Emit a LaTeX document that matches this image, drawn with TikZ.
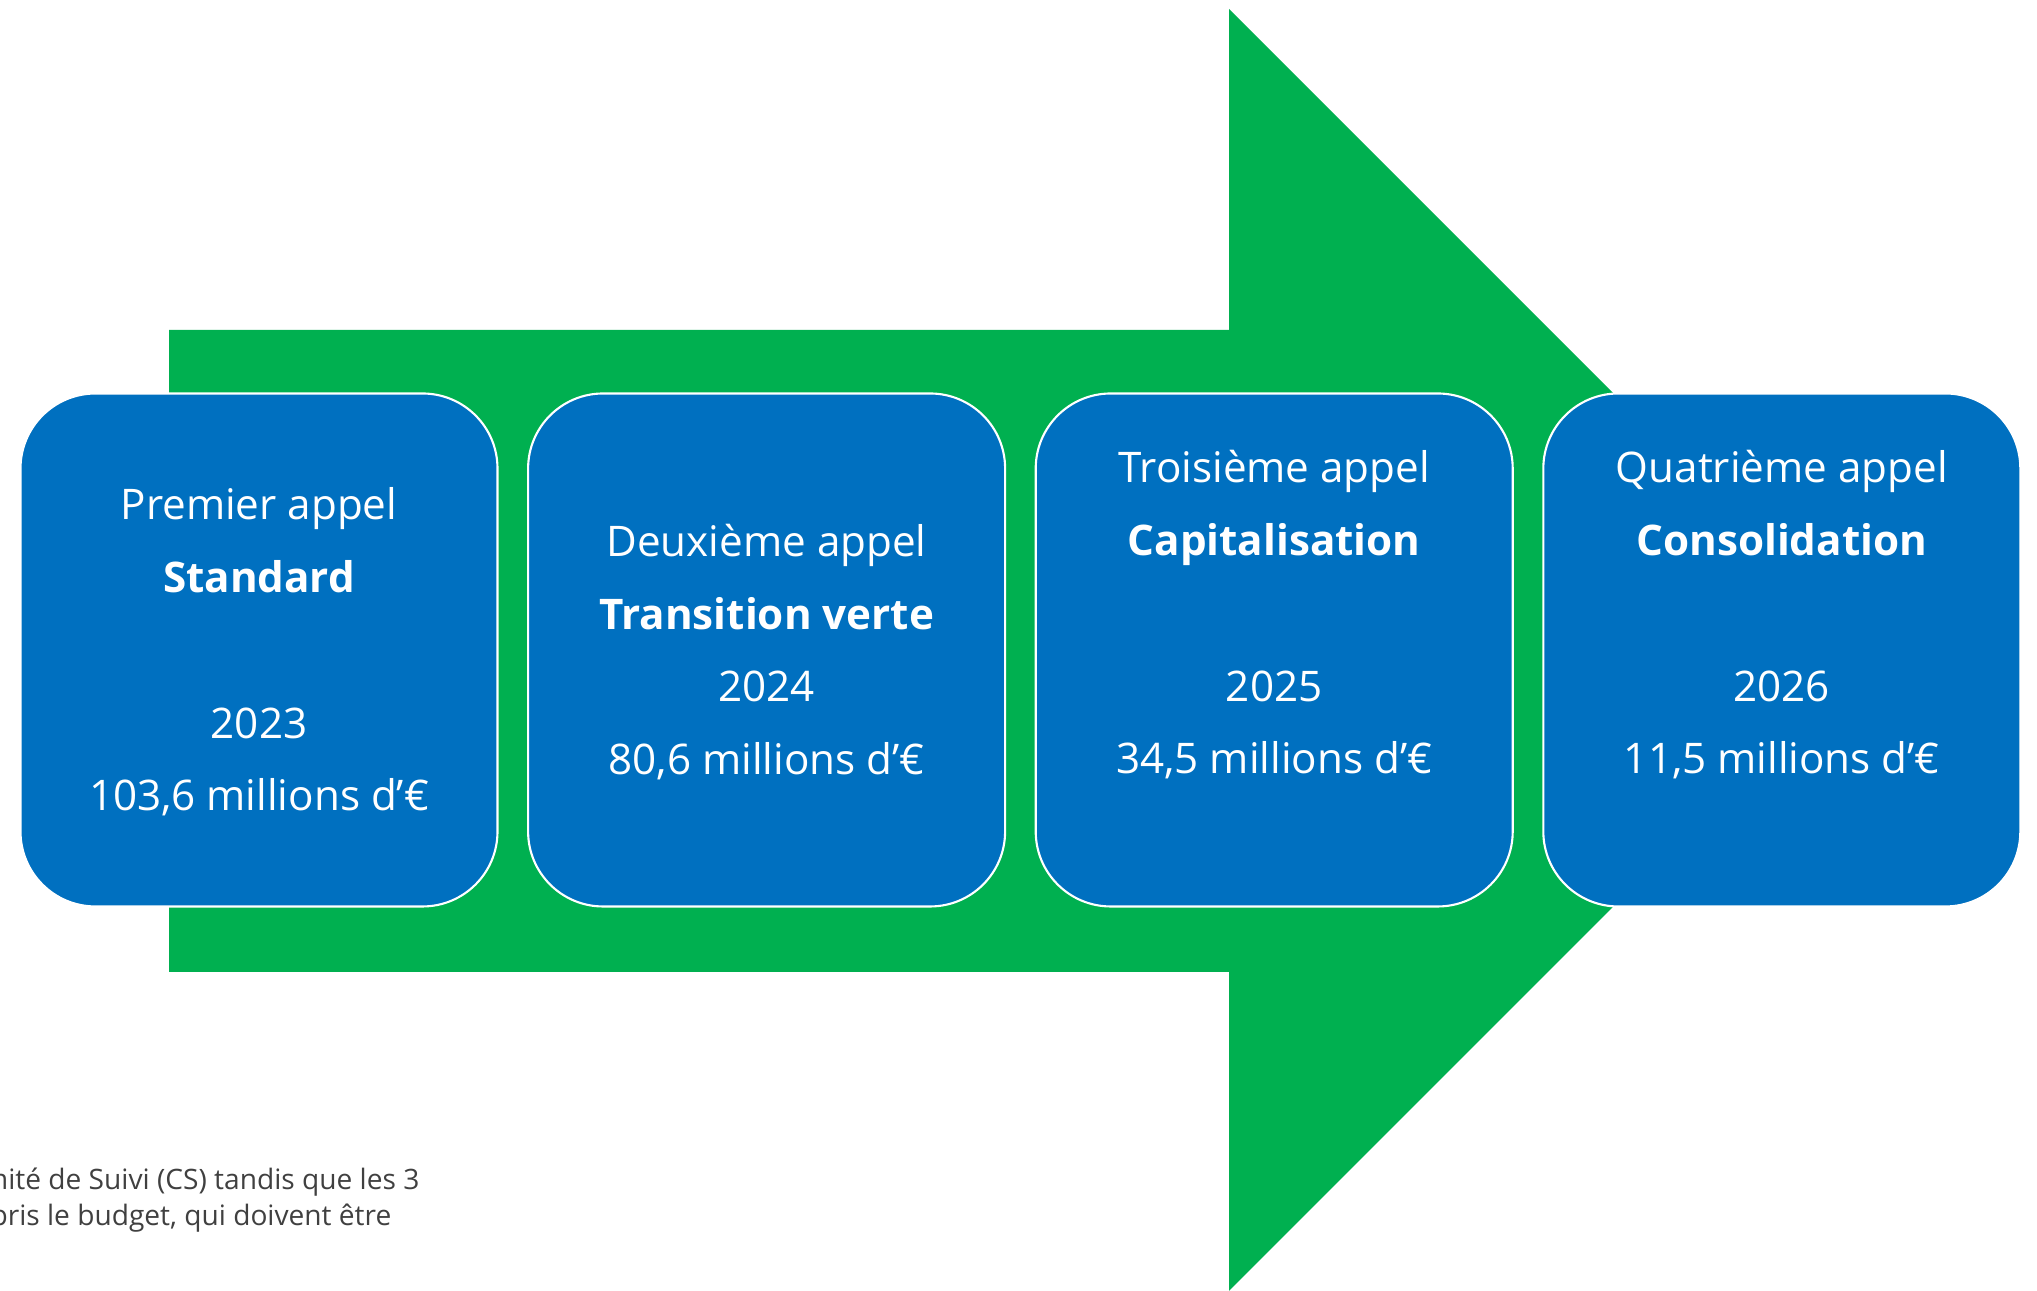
\documentclass[tikz,border=0pt]{standalone}
\usepackage{fontspec}
\setmainfont{Open Sans}
\usepackage{xcolor}
\usetikzlibrary{%
	positioning,%
	calc%
}
\definecolor{vert}{HTML}{00B050}
\definecolor{bleu}{HTML}{0070C0}
\definecolor{gris}{HTML}{404040}

\begin{document}
\begin{tikzpicture}[
	etape/.style={draw=white,line width=0.6pt,fill=bleu,rounded corners=0.75cm,minimum width=4.77cm,minimum height=5.13cm},
	texte/.style={text=white,align=center,font=\fontsize{12}{20.7}\selectfont},
	note/.style={text=gris,anchor=base east,inner sep=0pt,font=\fontsize{8}{10.3}\selectfont}
	]
	\useasboundingbox (0,0) rectangle (20.37,12.91);
	% la fleche
	\fill[vert] (1.69,3.19) -- (12.29,3.19) -- (12.29,0) -- (18.70,6.41) -- (12.29,12.82) -- (12.29,9.61) -- (1.69,9.61) -- cycle;
	% les appels
	\node[etape] (b1) at (2.59,6.41) {};
	\foreach \i [remember=\i as \j (initially 1)] in {2,3,4}
		{\node[etape,right=0.285cm of b\j] (b\i) {};}
	\foreach \txt/\dy [count=\i] in {%
		{Premier appel\\\textbf{Standard}\\[20.7pt]2023\\103,6 millions d’€}/-0.02,
		{Deuxième appel\\\textbf{Transition verte}\\2024\\80,6 millions d’€}/-0.02,
		{Troisième appel\\\textbf{Capitalisation}\\[20.7pt]2025\\34,5 millions d’€}/0.35,
		{Quatrième appel\\\textbf{Consolidation}\\[20.7pt]2026\\11,5 millions d’€}/0.35}
		{\node[texte] (t\i) at ([yshift=\dy cm]b\i.center) {\txt};}
	% note en bas
	\node[note] (n1) at (4.20,1.01) {mité de Suivi (CS) tandis que les 3};
	\node[note] (n2) at (3.92,0.65) {pris le budget, qui doivent être};
\end{tikzpicture}
\end{document}
